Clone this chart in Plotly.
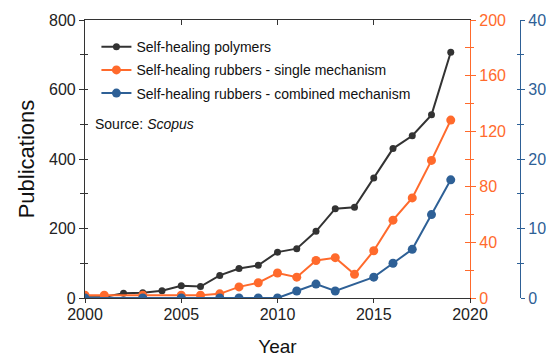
import plotly.graph_objects as go

years_poly = list(range(2000, 2020))
poly = [2, 3, 14, 15, 21, 35, 33, 65, 85, 94, 132, 142, 192, 257, 261, 345, 430, 467, 527, 707]

years_single = [2000, 2001, 2003, 2005, 2006, 2007, 2008, 2009, 2010, 2011, 2012, 2013, 2014, 2015, 2016, 2017, 2018, 2019]
single = [2, 2, 2, 2, 2, 3, 8, 11, 18, 15, 27, 29, 17, 34, 56, 72, 99, 128]

years_comb = [2000, 2003, 2005, 2007, 2008, 2009, 2010, 2011, 2012, 2013, 2015, 2016, 2017, 2018, 2019]
comb = [0, 0, 0, 0, 0, 0, 0, 1, 2, 1, 3, 5, 7, 12, 17]

BLACK = "#333333"
ORANGE = "#ff6a2c"
BLUE = "#2e6096"
FONT = "Liberation Sans, Arial, sans-serif"

# page body has an 8px margin; figure is sized/placed to compensate
W, H = 546, 351
ML, MR, MT, MB = 77, 12, 12, 61
pw = W - ML - MR
xend = (462 - ML) / pw
bluepos = (512 - ML) / pw

fig = go.Figure()
fig.add_trace(go.Scatter(x=years_poly, y=poly, mode="lines+markers", name="Self-healing polymers",
                         line=dict(color=BLACK, width=2), marker=dict(size=7, color=BLACK),
                         yaxis="y", xaxis="x", legendgroup="a"))
fig.add_trace(go.Scatter(x=years_single, y=single, mode="lines+markers",
                         name="Self-healing rubbers - single mechanism",
                         line=dict(color=ORANGE, width=2), marker=dict(size=9, color=ORANGE),
                         yaxis="y2", xaxis="x", legendgroup="b"))
fig.add_trace(go.Scatter(x=years_comb, y=comb, mode="lines+markers",
                         name="Self-healing rubbers - combined mechanism",
                         line=dict(color=BLUE, width=2), marker=dict(size=9, color=BLUE),
                         yaxis="y3", xaxis="x", legendgroup="c"))

tickfont = dict(family=FONT, size=16, color="#222222")

fig.update_layout(
    width=W, height=H,
    margin=dict(l=ML, r=MR, t=MT, b=MB, autoexpand=False),
    paper_bgcolor="white", plot_bgcolor="white",
    font=dict(family=FONT, size=14, color="#111111"),
    showlegend=True,
    legend=dict(x=0.025, y=0.96, xanchor="left", yanchor="top", traceorder="grouped",
                bgcolor="rgba(0,0,0,0)", font=dict(size=14, color="#111111"),
                itemwidth=30, tracegroupgap=2),
    xaxis=dict(domain=[0, xend], range=[2000, 2020], dtick=5, tick0=2000, automargin=False,
               showgrid=False, zeroline=False, showline=True, linecolor="#333333", linewidth=1.2,
               ticks="outside", ticklen=4, tickcolor="#333333", tickfont=tickfont,
               ticklabelstandoff=-2,
               title=dict(text="Year", font=dict(size=19, color="#111111"), standoff=17),
               anchor="y"),
    xaxis2=dict(domain=[0, xend], range=[2000, 2020], dtick=5, tick0=2000, overlaying="x",
                side="top", anchor="y", showgrid=False, zeroline=False, showline=True,
                linecolor="#333333", linewidth=1.2, ticks="inside", ticklen=5,
                tickcolor="#333333", showticklabels=False, automargin=False),
    yaxis=dict(range=[0, 800], dtick=200, showgrid=False, zeroline=False, showline=True,
               linecolor="#333333", linewidth=1.2, ticks="outside", ticklen=5,
               tickcolor="#333333", tickfont=tickfont, automargin=False,
               minor=dict(dtick=100, ticks="outside", ticklen=4, tickcolor="#333333"),
               title=dict(text="Publications", font=dict(size=22, color="#111111"), standoff=8),
               anchor="x"),
    yaxis4=dict(range=[0, 800], dtick=100, overlaying="y", side="left", anchor="x",
                showgrid=False, zeroline=False, showline=False, ticks="inside", ticklen=3,
                tickcolor="#333333", showticklabels=False, automargin=False),
    yaxis2=dict(range=[0, 200], dtick=40, overlaying="y", side="right", anchor="x",
                showgrid=False, zeroline=False, showline=True, linecolor=ORANGE, linewidth=1.2,
                ticks="outside", ticklen=5, tickcolor=ORANGE, automargin=False,
                tickfont=dict(family=FONT, size=16, color=ORANGE),
                minor=dict(dtick=20, ticks="outside", ticklen=3, tickcolor=ORANGE)),
    yaxis5=dict(range=[0, 200], dtick=20, overlaying="y", side="right", anchor="x",
                showgrid=False, zeroline=False, showline=False, ticks="inside", ticklen=5,
                tickcolor=ORANGE, showticklabels=False, automargin=False),
    yaxis3=dict(range=[0, 40], dtick=10, overlaying="y", side="right", anchor="free",
                position=bluepos, showgrid=False, zeroline=False, showline=True,
                linecolor=BLUE, linewidth=1.2, ticks="outside", ticklen=4, tickcolor=BLUE,
                tickfont=dict(family=FONT, size=16, color=BLUE), automargin=False,
                minor=dict(dtick=5, ticks="outside", ticklen=3, tickcolor=BLUE)),
    yaxis6=dict(range=[0, 40], dtick=5, overlaying="y", side="right", anchor="free",
                position=bluepos, showgrid=False, zeroline=False, showline=False,
                ticks="inside", ticklen=3, tickcolor=BLUE, showticklabels=False,
                automargin=False),
)

# invisible traces to activate the helper axes
for xa, ya in [("x2", "y"), ("x", "y4"), ("x", "y5"), ("x", "y6")]:
    fig.add_trace(go.Scatter(x=[None], y=[None], xaxis=xa, yaxis=ya, showlegend=False,
                             hoverinfo="skip"))

fig.add_annotation(text="Source: <i>Scopus</i>", xref="paper", yref="paper",
                   x=0.0175, y=0.627, xanchor="left", yanchor="middle", showarrow=False,
                   font=dict(family=FONT, size=14, color="#111111"))

fig.write_html("out.html")
